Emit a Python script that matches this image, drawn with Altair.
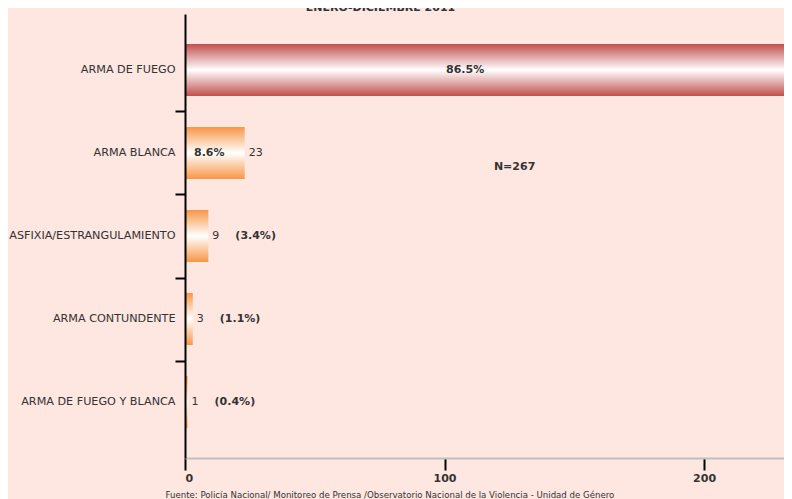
import altair as alt
import pandas as pd

categories = ["ARMA DE FUEGO", "ARMA BLANCA", "ASFIXIA/ESTRANGULAMIENTO",
              "ARMA CONTUNDENTE", "ARMA DE FUEGO Y BLANCA"]
counts = [231, 23, 9, 3, 1]
percents = ["86.5%", "8.6%", "(3.4%)", "(1.1%)", "(0.4%)"]
total_label = "N=267"
x_ticks = [0, 100, 200]
x_max = 230.8
title_text = "ENERO-DICIEMBRE 2011"
source_text = ("Fuente: Policía Nacional/ Monitoreo de Prensa /Observatorio Nacional "
               "de la Violencia - Unidad de Género")

FONT = "DejaVu Sans"
TXT = "#333333"

df = pd.DataFrame({"cat": categories, "n": counts, "pct": percents,
                   "idx": list(range(len(categories)))})
note_df = pd.DataFrame({"label": [total_label], "x": [127], "cat": [categories[1]]})


def grad(edge):
    return alt.Gradient(
        gradient="linear",
        stops=[alt.GradientStop(color=edge, offset=0),
               alt.GradientStop(color="#ffffff", offset=0.5),
               alt.GradientStop(color=edge, offset=1)],
        x1=0, x2=0, y1=0, y2=1,
    )


yscale = alt.Scale(domain=categories, paddingInner=0.373, paddingOuter=0.361)
xscale = alt.Scale(domain=[0, x_max], nice=False, zero=True)

x_axis = alt.Axis(
    values=x_ticks, domainColor="#c0c0c0", domainWidth=2, tickColor="#000000",
    tickWidth=2, tickSize=12, labelFont=FONT, labelFontSize=11, labelFontWeight="bold",
    labelColor=TXT, labelPadding=2, grid=False, title=source_text, titleFont=FONT,
    titleFontSize=8.6, titleFontWeight="normal", titleColor=TXT, titleAnchor="start",
    titleAlign="left", titleX=-20, titlePadding=7, zindex=1,
)
y_axis = alt.Axis(
    title=None, ticks=False, labelPadding=10, domainColor="#000000", domainWidth=2,
    labelFont=FONT, labelFontSize=11.2, labelColor=TXT, labelLimit=300, zindex=2,
)
y_tick_axis = alt.Axis(
    title=None, orient="left", values=categories[:4], labels=False, domain=False,
    ticks=True, tickColor="#000000", tickWidth=2, tickSize=10, tickOffset=41.5,
    grid=False, zindex=2,
)


def X(field="n:Q"):
    return alt.X(field, scale=xscale, axis=x_axis)


def Yn():
    return alt.Y("cat:N", scale=yscale, sort=categories, axis=None)


base = alt.Chart(df)

red_bar = base.transform_filter("datum.idx == 0").mark_bar(color=grad("#c0504d")).encode(
    x=X(),
    y=alt.Y("cat:N", scale=yscale, sort=categories, axis=y_axis),
)
orange_bar = base.transform_filter("datum.idx > 0").mark_bar(color=grad("#f79646")).encode(
    x=X(),
    y=alt.Y("cat:N", scale=yscale, sort=categories, axis=y_tick_axis),
)

count_text = base.mark_text(align="left", dx=4, font=FONT, fontSize=11, color=TXT).encode(
    x=X(), y=Yn(), text="n:Q",
)
pct_big = base.transform_filter("datum.idx == 0").mark_text(
    align="left", dx=261, font=FONT, fontSize=11, fontWeight="bold", color=TXT
).encode(
    x=alt.datum(0, scale=xscale, axis=x_axis), y=Yn(), text="pct:N",
)
pct_mid = base.transform_filter("datum.idx == 1").mark_text(
    align="left", dx=9, font=FONT, fontSize=11, fontWeight="bold", color=TXT
).encode(
    x=alt.datum(0, scale=xscale, axis=x_axis), y=Yn(), text="pct:N",
)
pct_out = base.transform_filter("datum.idx >= 2").mark_text(
    align="left", dx=27, font=FONT, fontSize=11, fontWeight="bold", color=TXT
).encode(
    x=X(), y=Yn(), text="pct:N",
)
note = alt.Chart(note_df).mark_text(
    dy=14, font=FONT, fontSize=11, fontWeight="bold", color=TXT
).encode(
    x=X("x:Q"), y=Yn(), text="label:N",
)

chart = alt.layer(
    red_bar, orange_bar, count_text, pct_big, pct_mid, pct_out, note
).resolve_axis(y="independent").properties(
    width=599, height=444,
    autosize=alt.AutoSizeParams(type="none"),
    padding={"left": 177, "top": 6, "right": 0, "bottom": 41},
    title=alt.Title(title_text, anchor="middle", frame="group", dx=-104, offset=-10,
                    baseline="bottom", font=FONT, fontSize=11, fontWeight="bold",
                    color=TXT),
).configure(background="#fee6e1").configure_view(stroke=None)

chart.save("out.html", embed_options={"renderer": "svg", "actions": False})
